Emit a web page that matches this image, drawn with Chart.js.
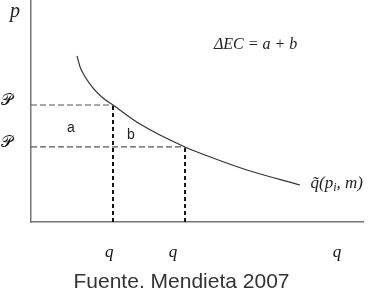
<!DOCTYPE html>
<html>
<head>
<meta charset="utf-8">
<script src="https://cdn.jsdelivr.net/npm/chart.js@4.4.0/dist/chart.umd.min.js"></script>
<style>
  body { margin: 0; background: #fff; }
  canvas { display: block; }
</style>
</head>
<body>
<canvas id="myChart" width="368" height="293"></canvas>
<script>
// curva de demanda compensada
var curvaQ = [13.86, 14.76, 16.27, 18.77, 21.78, 24.70, 32.83, 46.39, 54.82, 65.06, 81.02];
var curvaP = [74.8, 69.95, 65.45, 60.23, 55.72, 52.70, 44.14, 33.78, 28.83, 23.42, 16.67];

// precios y cantidades (lineas punteadas)
var precios = [52.7, 33.8];
var cantidades = [24.7, 46.4];

// etiquetas de los ejes
var ticksX = [23.6, 42.8, 92.2];
var etiquetasX = ['q', 'q', 'q'];
var etiquetasY = ['\u{1D4AB}', '\u{1D4AB}'];

// textos dentro del grafico
var textos = ['a', 'b', '\u0394EC = a + b', 'p'];
var textosQ = [12.0, 30.1, 55.1, -4.8];
var textosP = [42.3, 39.2, 80.0, 94.5];

var datosCurva = [];
for (var i = 0; i < curvaQ.length; i++) {
    datosCurva.push({ x: curvaQ[i], y: curvaP[i] });
}

var datasets = [{
    data: datosCurva,
    borderColor: '#333',
    borderWidth: 1.2,
    pointRadius: 0,
    cubicInterpolationMode: 'monotone'
}];
for (var j = 0; j < precios.length; j++) {
    datasets.push({
        data: [{ x: 0, y: precios[j] }, { x: cantidades[j], y: precios[j] }],
        borderColor: '#555',
        borderWidth: 1.2,
        borderDash: [6, 3],
        pointRadius: 0
    });
    datasets.push({
        data: [{ x: cantidades[j], y: 0 }, { x: cantidades[j], y: precios[j] }],
        borderColor: '#111',
        borderWidth: 2,
        borderDash: [4, 3],
        pointRadius: 0
    });
}

var textosPlugin = {
    id: 'textos',
    afterDatasetsDraw: function(chart) {
        var ctx = chart.ctx;
        var sx = chart.scales.x, sy = chart.scales.y;
        ctx.save();
        ctx.fillStyle = '#222';
        ctx.textBaseline = 'middle';
        for (var k = 0; k < textos.length; k++) {
            var x = sx.getPixelForValue(textosQ[k]);
            var y = sy.getPixelForValue(textosP[k]);
            if (textos[k] == 'a' || textos[k] == 'b') {
                ctx.font = '14px "Liberation Sans"';
                ctx.textAlign = 'center';
            } else if (textos[k] == 'p') {
                ctx.font = 'italic 20px "Liberation Serif"';
                ctx.textAlign = 'center';
            } else {
                ctx.font = 'italic 16px "Liberation Serif"';
                ctx.textAlign = 'left';
            }
            ctx.fillText(textos[k], x, y);
        }
        // etiqueta de la curva
        var lx = sx.getPixelForValue(84.2);
        var ly = sy.getPixelForValue(17.5);
        ctx.textAlign = 'left';
        ctx.font = 'italic 17px "Liberation Serif"';
        var t1 = 'q\u0303(p';
        ctx.fillText(t1, lx, ly);
        lx += ctx.measureText(t1).width;
        ctx.font = 'italic 12px "Liberation Serif"';
        ctx.fillText('i', lx, ly + 5);
        lx += ctx.measureText('i').width;
        ctx.font = 'italic 17px "Liberation Serif"';
        ctx.fillText(', m)', lx, ly);
        ctx.restore();
    }
};

var ctx = document.getElementById('myChart');
var myChart = new Chart(ctx, {
    type: 'line',
    data: { datasets: datasets },
    plugins: [textosPlugin],
    options: {
        responsive: false,
        animation: false,
        layout: { padding: { left: 0, right: 5, top: 0, bottom: 0 } },
        plugins: {
            legend: { display: false },
            tooltip: { enabled: false },
            title: {
                display: true,
                position: 'bottom',
                text: 'Fuente. Mendieta 2007',
                color: '#333',
                font: { family: 'Liberation Sans', size: 21, weight: 'normal', lineHeight: 1 },
                padding: { top: 0, bottom: 0 }
            }
        },
        scales: {
            x: {
                type: 'linear',
                min: 0,
                max: 100,
                grid: { display: false, drawTicks: false },
                border: { color: '#777', width: 1.5 },
                afterBuildTicks: function(scale) {
                    scale.ticks = ticksX.map(function(v) { return { value: v }; });
                },
                afterFit: function(scale) {
                    scale.height = 50;
                    scale.paddingLeft = 0;
                    scale.paddingRight = 0;
                },
                ticks: {
                    padding: 20,
                    color: '#111',
                    font: { family: 'Liberation Serif', style: 'italic', size: 17 },
                    callback: function(value, index) { return etiquetasX[index]; }
                }
            },
            y: {
                type: 'linear',
                min: 0,
                max: 100,
                grid: { display: false, drawTicks: false },
                border: { color: '#777', width: 1.5 },
                afterBuildTicks: function(scale) {
                    scale.ticks = precios.map(function(v) { return { value: v }; });
                },
                afterFit: function(scale) {
                    scale.width = 31;
                    scale.paddingTop = 0;
                    scale.paddingBottom = 0;
                },
                ticks: {
                    padding: 18,
                    labelOffset: -4,
                    color: '#111',
                    font: { family: 'DejaVu Serif', size: 16 },
                    callback: function(value, index) { return etiquetasY[index]; }
                }
            }
        }
    }
});
</script>
</body>
</html>
